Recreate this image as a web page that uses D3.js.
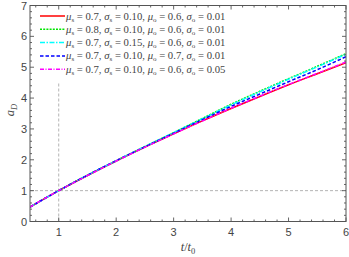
<!DOCTYPE html>
<html>
<head>
<meta charset="utf-8">
<script src="https://cdn.jsdelivr.net/npm/d3@7"></script>
<style>
  html, body { margin: 0; padding: 0; background: #fff; }
  svg { display: block; }
</style>
</head>
<body>
<svg id="chart" width="349" height="257"></svg>
<script>
// t / t0 sample points
const tValues = [0.5, 1, 1.5, 2, 2.5, 3, 3.5, 4, 4.5, 5, 5.5, 6];

// a_D for each parameter set
const aRed     = [0.47, 1.00, 1.49, 1.96, 2.41, 2.84, 3.26, 3.66, 4.05, 4.43, 4.79, 5.15];
const aGreen   = [0.47, 1.00, 1.50, 1.97, 2.43, 2.88, 3.34, 3.80, 4.22, 4.63, 5.03, 5.44];
const aCyan    = [0.47, 1.00, 1.50, 1.97, 2.43, 2.88, 3.33, 3.78, 4.20, 4.61, 5.01, 5.42];
const aBlue    = [0.47, 1.00, 1.50, 1.97, 2.42, 2.86, 3.30, 3.73, 4.13, 4.53, 4.92, 5.34];
const aMagenta = [0.47, 1.00, 1.49, 1.96, 2.41, 2.84, 3.26, 3.67, 4.06, 4.44, 4.80, 5.17];

// legend parameters
const muS    = ["0.7", "0.8", "0.7", "0.7", "0.7"];
const sigmaS = ["0.10", "0.10", "0.15", "0.10", "0.10"];
const muO    = ["0.6", "0.6", "0.6", "0.7", "0.6"];
const sigmaO = ["0.01", "0.01", "0.01", "0.01", "0.05"];

const xTicks = [1, 2, 3, 4, 5, 6];
const yTicks = [0, 1, 2, 3, 4, 5, 6, 7];

const series = [
  { vals: aRed,     color: "#ff0000", dash: null },
  { vals: aGreen,   color: "#00e600", dash: "2,1.2" },
  { vals: aCyan,    color: "#00ffff", dash: "5,1.5,1.5,1.5" },
  { vals: aBlue,    color: "#0000ff", dash: "3.5,2" },
  { vals: aMagenta, color: "#ff00ff", dash: "4,1.5,1,1.5" }
];

const svg = d3.select("#chart");
const x = d3.scaleLinear().domain([0.5, 6]).range([30, 346]);
const y = d3.scaleLinear().domain([0, 7]).range([221.5, 5.5]);

const frameColor = "#555";

// reference lines
svg.append("line")
  .attr("x1", x(1)).attr("x2", x(1))
  .attr("y1", y(0)).attr("y2", y(4.5))
  .attr("stroke", "#aaa").attr("stroke-width", 0.9)
  .attr("stroke-dasharray", "3,2");
svg.append("line")
  .attr("x1", x(0.5)).attr("x2", x(6))
  .attr("y1", y(1)).attr("y2", y(1))
  .attr("stroke", "#aaa").attr("stroke-width", 0.9)
  .attr("stroke-dasharray", "3,2");

// curves
const line = d3.line()
  .x((d, i) => x(tValues[i]))
  .y(d => y(d))
  .curve(d3.curveMonotoneX);

svg.append("clipPath").attr("id", "clip")
  .append("rect")
  .attr("x", x(0.5)).attr("y", y(7))
  .attr("width", x(6) - x(0.5)).attr("height", y(0) - y(7));

series.forEach(s => {
  svg.append("path")
    .datum(s.vals)
    .attr("clip-path", "url(#clip)")
    .attr("fill", "none")
    .attr("stroke", s.color)
    .attr("stroke-width", 1.5)
    .attr("stroke-dasharray", s.dash)
    .attr("d", line);
});

// frame with inward ticks on all sides
const minorX = d3.range(0.6, 6.001, 0.2).filter(v => Math.abs(v - Math.round(v)) > 1e-6);
const minorY = d3.range(0.2, 7, 0.2).filter(v => Math.abs(v - Math.round(v)) > 1e-6);

const frame = svg.append("g");
frame.append("rect")
  .attr("x", x(0.5)).attr("y", y(7))
  .attr("width", x(6) - x(0.5)).attr("height", y(0) - y(7))
  .attr("fill", "none").attr("stroke", frameColor).attr("stroke-width", 1);

function tick(x1, y1, x2, y2) {
  frame.append("line")
    .attr("x1", x1).attr("y1", y1).attr("x2", x2).attr("y2", y2)
    .attr("stroke", frameColor).attr("stroke-width", 0.9);
}
xTicks.forEach(v => { tick(x(v), y(0), x(v), y(0) - 4); tick(x(v), y(7), x(v), y(7) + 4); });
minorX.forEach(v => { tick(x(v), y(0), x(v), y(0) - 2); tick(x(v), y(7), x(v), y(7) + 2); });
yTicks.forEach(v => { tick(x(0.5), y(v), x(0.5) + 4, y(v)); tick(x(6), y(v), x(6) - 4, y(v)); });
minorY.forEach(v => { tick(x(0.5), y(v), x(0.5) + 2, y(v)); tick(x(6), y(v), x(6) - 2, y(v)); });

// tick labels
svg.append("g").selectAll("text").data(xTicks).join("text")
  .attr("x", d => x(d)).attr("y", y(0) + 14)
  .attr("text-anchor", "middle")
  .attr("font-family", "Liberation Sans, Arial, sans-serif")
  .attr("font-size", 11).attr("fill", "#444")
  .text(d => d);
svg.append("g").selectAll("text").data(yTicks).join("text")
  .attr("x", x(0.5) - 3).attr("y", d => y(d) + 4)
  .attr("text-anchor", "end")
  .attr("font-family", "Liberation Sans, Arial, sans-serif")
  .attr("font-size", 11).attr("fill", "#444")
  .text(d => d);

// axis titles
const xt = svg.append("text")
  .attr("x", 188).attr("y", 251)
  .attr("text-anchor", "middle")
  .attr("font-family", "Liberation Serif, Times New Roman, serif")
  .attr("font-size", 12.5).attr("fill", "#444");
xt.append("tspan").attr("font-style", "italic").text("t");
xt.append("tspan").text("/");
xt.append("tspan").attr("font-style", "italic").text("t");
xt.append("tspan").attr("font-size", 8.5).attr("dy", 3).text("0");

const yt = svg.append("text")
  .attr("transform", "translate(14,110) rotate(-90)")
  .attr("text-anchor", "middle")
  .attr("font-family", "Liberation Serif, Times New Roman, serif")
  .attr("font-size", 12.5).attr("fill", "#444");
yt.append("tspan").attr("font-style", "italic").text("a");
yt.append("tspan").attr("font-size", 8.5).attr("dy", 3).attr("font-style", "italic").text("D");

// legend
const legend = svg.append("g");
series.forEach((s, i) => {
  const ly = 16 + i * 13.3;
  legend.append("line")
    .attr("x1", 40).attr("x2", 65).attr("y1", ly).attr("y2", ly)
    .attr("stroke", s.color).attr("stroke-width", 1.5)
    .attr("stroke-dasharray", s.dash);
  const t = legend.append("text")
    .attr("x", 66).attr("y", ly + 3.5)
    .attr("font-family", "Liberation Serif, Times New Roman, serif")
    .attr("font-size", 10.7).attr("fill", "#444");
  const part = (sym, sub, val, last) => {
    t.append("tspan").attr("font-style", "italic").text(sym);
    t.append("tspan").attr("font-size", 7).attr("dy", 2).text(sub);
    t.append("tspan").attr("dy", -2).text(" = " + val + (last ? "" : ", "));
  };
  part("μ", "s", muS[i], false);
  part("σ", "s", sigmaS[i], false);
  part("μ", "o", muO[i], false);
  part("σ", "o", sigmaO[i], true);
});
</script>
</body>
</html>
